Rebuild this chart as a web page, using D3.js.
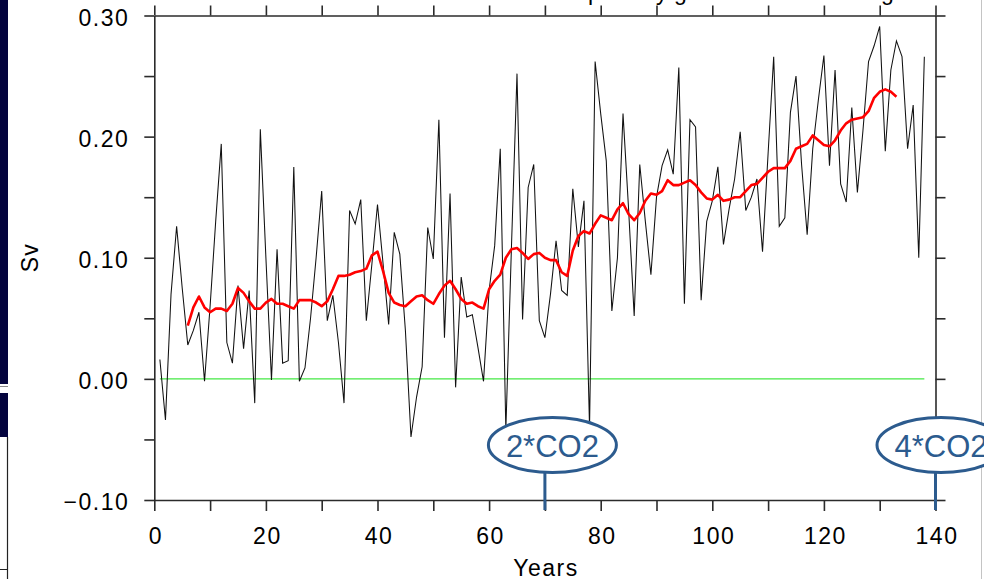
<!DOCTYPE html>
<html><head><meta charset="utf-8">
<script src="https://cdn.jsdelivr.net/npm/d3@7"></script>
<style>
html,body{margin:0;padding:0;background:#fff;overflow:hidden;}
svg{display:block;}
</style></head>
<body>
<svg id="c" width="984" height="579"></svg>
<script>
// ---- data ----
const transport = [
 0.016,-0.034,0.070,0.126,0.075,0.028,0.040,0.055,-0.002,0.060,
 0.130,0.194,0.030,0.013,0.077,0.025,0.073,-0.020,0.206,0.100,
 -0.001,0.107,0.013,0.015,0.175,-0.002,0.009,0.050,0.100,0.155,
 0.048,0.069,0.030,-0.020,0.139,0.128,0.148,0.048,0.095,0.144,
 0.095,0.045,0.121,0.103,0.040,-0.048,-0.015,0.010,0.125,0.099,
 0.214,0.034,0.153,-0.007,0.084,0.051,0.053,0.026,-0.002,0.073,
 0.110,0.190,-0.042,0.108,0.252,0.049,0.158,0.177,0.048,0.034,
 0.070,0.114,0.073,0.069,0.157,0.109,0.147,-0.040,0.262,0.219,
 0.180,0.056,0.100,0.219,0.140,0.052,0.177,0.130,0.086,0.150,
 0.176,0.189,0.169,0.257,0.062,0.214,0.208,0.065,0.130,0.147,
 0.175,0.111,0.140,0.165,0.204,0.139,0.150,0.165,0.105,0.186,
 0.266,0.126,0.133,0.220,0.250,0.177,0.119,0.190,0.230,0.267,
 0.176,0.255,0.161,0.146,0.224,0.154,0.205,0.262,0.275,0.291,
 0.188,0.255,0.279,0.266,0.190,0.226,0.100,0.266
];
const transportYears = d3.range(1, transport.length + 1);

const smoothed = [
 0.044,0.059,0.068,0.059,0.055,0.058,0.058,0.056,0.062,0.075,
 0.071,0.064,0.058,0.058,0.063,0.066,0.062,0.062,0.060,0.058,
 0.065,0.065,0.065,0.063,0.060,0.064,0.074,0.085,0.085,0.086,
 0.088,0.089,0.091,0.102,0.105,0.089,0.071,0.063,0.061,0.060,
 0.064,0.068,0.069,0.065,0.062,0.070,0.077,0.081,0.074,0.066,
 0.062,0.063,0.060,0.058,0.074,0.081,0.086,0.100,0.107,0.108,
 0.104,0.099,0.103,0.104,0.100,0.098,0.098,0.088,0.085,0.106,
 0.118,0.122,0.120,0.128,0.135,0.133,0.131,0.140,0.145,0.136,
 0.131,0.137,0.147,0.153,0.152,0.155,0.164,0.160,0.160,0.162,
 0.164,0.160,0.154,0.149,0.148,0.152,0.147,0.148,0.150,0.150,
 0.155,0.160,0.161,0.166,0.171,0.174,0.174,0.174,0.180,0.190,
 0.192,0.194,0.201,0.197,0.193,0.192,0.197,0.205,0.211,0.214,
 0.215,0.216,0.221,0.232,0.237,0.239,0.237,0.233
];
const smoothedYears = d3.range(6, 6 + smoothed.length);

const zeroLineYears = [1, 138];
const xTicks = [0,10,20,30,40,50,60,70,80,90,100,110,120,130,140];
const xTickLabels = [0,20,40,60,80,100,120,140];
const yTicks = [-0.10,-0.05,0.00,0.05,0.10,0.15,0.20,0.25,0.30];
const yTickLabels = ["−0.10","0.00","0.10","0.20","0.30"];
const yLabeled = [-0.10,0.00,0.10,0.20,0.30];
const markerLabels = ["2*CO2","4*CO2"];
const markerYears = [70,140];
const xTitle = "Years";
const yTitle = "Sv";

// ---- layout ----
const svg = d3.select("#c");
const L = 154.3, R = 935.5, T = 15.5, B = 500;
const x = d3.scaleLinear().domain([0,140]).range([L,R]);
const y = d3.scaleLinear().domain([-0.10,0.30]).range([B,T]);
const axisCol = "#2b2b2b";
const font = "'Liberation Sans', Arial, sans-serif";

// page decorations (left frame of the slide)
svg.append("rect").attr("x",0).attr("y",0).attr("width",8).attr("height",384).attr("fill","#04043e");
svg.append("rect").attr("x",0).attr("y",393).attr("width",8).attr("height",44).attr("fill","#04043e");
svg.append("line").attr("x1",7.5).attr("x2",7.5).attr("y1",437).attr("y2",579).attr("stroke","#222").attr("stroke-width",1.2);
svg.append("line").attr("x1",0).attr("x2",8).attr("y1",569.5).attr("y2",569.5).attr("stroke","#222").attr("stroke-width",1);
svg.append("line").attr("x1",0).attr("x2",8).attr("y1",386.5).attr("y2",386.5).attr("stroke","#888").attr("stroke-width",1);
svg.append("line").attr("x1",981.5).attr("x2",981.5).attr("y1",0).attr("y2",579).attr("stroke","#c4c4c4").attr("stroke-width",1);

// clipped title (only descenders visible at the top edge)
const titleFrag = svg.append("text").attr("y",0).attr("font-family",font).attr("font-size",23).attr("fill","#000");
titleFrag.append("tspan").attr("x",588).text("p");
titleFrag.append("tspan").attr("x",656).text("y g");
titleFrag.append("tspan").attr("x",881).text("g");

// axes
function styleAxis(g){
  g.select(".domain").attr("stroke",axisCol).attr("stroke-width",1.6);
  g.selectAll(".tick line").attr("stroke",axisCol).attr("stroke-width",1.6);
  g.selectAll("text").attr("font-family",font).attr("font-size",23).attr("fill","#000").attr("letter-spacing","1.5px");
}
const fmtY = v => { const i = yLabeled.findIndex(w => Math.abs(w-v) < 1e-9); return i >= 0 ? yTickLabels[i] : ""; };
const fmtX = v => xTickLabels.includes(v) ? String(v) : "";

const gBottom = svg.append("g").attr("transform",`translate(0,${B})`)
  .call(d3.axisBottom(x).tickValues(xTicks).tickSize(11).tickSizeOuter(0).tickFormat(fmtX));
styleAxis(gBottom);
gBottom.selectAll("text").attr("y",44).attr("dy",0).attr("dx","1px");

const gTop = svg.append("g").attr("transform",`translate(0,${T})`)
  .call(d3.axisTop(x).tickValues(xTicks).tickSize(10).tickSizeOuter(0).tickFormat(""));
styleAxis(gTop);

const gLeft = svg.append("g").attr("transform",`translate(${L},0)`)
  .call(d3.axisLeft(y).tickValues(yTicks).tickSize(10).tickSizeOuter(0).tickPadding(15).tickFormat(fmtY));
styleAxis(gLeft);
gLeft.selectAll("text").attr("dy","0.42em");

const gRight = svg.append("g").attr("transform",`translate(${R},0)`)
  .call(d3.axisRight(y).tickValues(yTicks).tickSize(10).tickSizeOuter(0).tickFormat(""));
styleAxis(gRight);

// axis titles
svg.append("text").attr("x",x(70)+1).attr("y",576).attr("text-anchor","middle")
  .attr("font-family",font).attr("font-size",23).attr("letter-spacing","1.5px").text(xTitle);
svg.append("text").attr("transform",`translate(38,${y(0.10)})rotate(-90)`).attr("text-anchor","middle")
  .attr("font-family",font).attr("font-size",23).attr("letter-spacing","1px").text(yTitle);

// zero line
svg.append("line").attr("x1",x(zeroLineYears[0])).attr("x2",x(zeroLineYears[1]))
  .attr("y1",y(0)).attr("y2",y(0)).attr("stroke","#44e844").attr("stroke-width",1.3);

// annual series
svg.append("path").datum(transport.map((v,i)=>[transportYears[i],v]))
  .attr("fill","none").attr("stroke","#111").attr("stroke-width",1.05).attr("stroke-linejoin","miter")
  .attr("d", d3.line().x(d=>x(d[0])).y(d=>y(d[1])));

// smoothed series
svg.append("path").datum(smoothed.map((v,i)=>[smoothedYears[i],v]))
  .attr("fill","none").attr("stroke","#ff0000").attr("stroke-width",2.6).attr("stroke-linejoin","round")
  .attr("d", d3.line().x(d=>x(d[0])).y(d=>y(d[1])));

// CO2 markers
const mCol = "#2c5b8e";
markerYears.forEach((yr,i)=>{
  const cx = x(yr) + (i === 0 ? 7.5 : 5.5);
  const g = svg.append("g");
  g.append("line").attr("x1",x(yr)).attr("x2",x(yr)).attr("y1",472).attr("y2",B+10)
    .attr("stroke",mCol).attr("stroke-width",3);
  g.append("ellipse").attr("cx",cx).attr("cy",445).attr("rx",64).attr("ry",27.5)
    .attr("fill","#fff").attr("stroke",mCol).attr("stroke-width",3);
  g.append("text").attr("x",cx).attr("y",456.5).attr("text-anchor","middle")
    .attr("font-family",font).attr("font-size",31).attr("fill",mCol).text(markerLabels[i]);
});
</script>
</body></html>
